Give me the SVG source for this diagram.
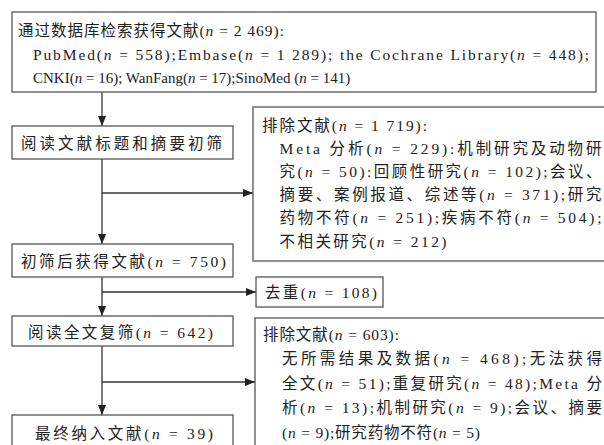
<svg xmlns="http://www.w3.org/2000/svg" width="604" height="445" viewBox="0 0 604 445">
<defs>
<marker id="ah" markerWidth="10" markerHeight="8" refX="10" refY="4" orient="auto" markerUnits="userSpaceOnUse">
<path d="M0,0 L10,4 L0,8 Z" fill="#222"/>
</marker>
<style>
.box{fill:#fff;stroke:#555;stroke-width:1.3}
.t{font-family:"Liberation Serif","Noto Sans CJK SC",serif;font-size:15.5px;fill:#222}
.c{stroke:#333;stroke-width:1.3;fill:none}
.n{font-style:italic}
</style>
</defs>
<rect width="604" height="445" fill="#fff"/>
<g id="connectors">
<line class="c" x1="102" y1="92" x2="102" y2="126" marker-end="url(#ah)"/>
<line class="c" x1="102" y1="159" x2="102" y2="244" marker-end="url(#ah)"/>
<line class="c" x1="102" y1="193" x2="253" y2="193" marker-end="url(#ah)"/>
<line class="c" x1="102" y1="277" x2="102" y2="316" marker-end="url(#ah)"/>
<line class="c" x1="102" y1="292" x2="256" y2="292" marker-end="url(#ah)"/>
<line class="c" x1="102" y1="346" x2="102" y2="415" marker-end="url(#ah)"/>
<line class="c" x1="102" y1="382" x2="255" y2="382" marker-end="url(#ah)"/>
</g>
<g id="search">
<rect class="box" x="12" y="12" width="584" height="80"/>
<text class="t" x="18" y="36" textLength="266" lengthAdjust="spacing">通过数据库检索获得文献(<tspan class="n">n</tspan> = 2 469):</text>
<text class="t" x="33" y="59.5" textLength="556" lengthAdjust="spacing">PubMed(<tspan class="n">n</tspan> = 558);Embase(<tspan class="n">n</tspan> = 1 289); the Cochrane Library(<tspan class="n">n</tspan> = 448);</text>
<text class="t" x="33" y="83" style="font-size:15px">CNKI(<tspan class="n">n</tspan> = 16); WanFang(<tspan class="n">n</tspan> = 17);SinoMed (<tspan class="n">n</tspan> = 141)</text>
</g>
<g id="screen1">
<rect class="box" x="12" y="126" width="221" height="33"/>
<text class="t" x="21" y="148.5" textLength="201" lengthAdjust="spacing">阅读文献标题和摘要初筛</text>
</g>
<g id="exclude1">
<rect class="box" x="253" y="107" width="360" height="154"/>
<text class="t" x="262" y="131" textLength="165" lengthAdjust="spacing">排除文献(<tspan class="n">n</tspan> = 1 719):</text>
<text class="t" x="279.5" y="154" textLength="322" lengthAdjust="spacing">Meta 分析(<tspan class="n">n</tspan> = 229):机制研究及动物研</text>
<text class="t" x="279.5" y="177" textLength="322" lengthAdjust="spacing">究(<tspan class="n">n</tspan> = 50):回顾性研究(<tspan class="n">n</tspan> = 102);会议、</text>
<text class="t" x="279.5" y="200" textLength="322" lengthAdjust="spacing">摘要、案例报道、综述等(<tspan class="n">n</tspan> = 371);研究</text>
<text class="t" x="279.5" y="223" textLength="322" lengthAdjust="spacing">药物不符(<tspan class="n">n</tspan> = 251);疾病不符(<tspan class="n">n</tspan> = 504);</text>
<text class="t" x="279.5" y="246.5" textLength="167" lengthAdjust="spacing">不相关研究(<tspan class="n">n</tspan> = 212)</text>
</g>
<g id="after1">
<rect class="box" x="12" y="244" width="221" height="33"/>
<text class="t" x="21" y="266.5" textLength="205" lengthAdjust="spacing">初筛后获得文献(<tspan class="n">n</tspan> = 750)</text>
</g>
<g id="dedup">
<rect class="box" x="256" y="277" width="127" height="30"/>
<text class="t" x="265" y="298" textLength="112" lengthAdjust="spacing">去重(<tspan class="n">n</tspan> = 108)</text>
</g>
<g id="fulltext">
<rect class="box" x="12" y="316" width="221" height="30"/>
<text class="t" x="28" y="337.5" textLength="185" lengthAdjust="spacing">阅读全文复筛(<tspan class="n">n</tspan> = 642)</text>
</g>
<g id="exclude2">
<rect class="box" x="255" y="318" width="360" height="140"/>
<text class="t" x="263" y="340" textLength="136" lengthAdjust="spacing">排除文献(<tspan class="n">n</tspan> = 603):</text>
<text class="t" x="282" y="364" textLength="320" lengthAdjust="spacing">无所需结果及数据(<tspan class="n">n</tspan> = 468);无法获得</text>
<text class="t" x="282" y="388.5" textLength="320" lengthAdjust="spacing">全文(<tspan class="n">n</tspan> = 51);重复研究(<tspan class="n">n</tspan> = 48);Meta 分</text>
<text class="t" x="282" y="413" textLength="320" lengthAdjust="spacing">析(<tspan class="n">n</tspan> = 13);机制研究(<tspan class="n">n</tspan> = 9);会议、摘要</text>
<text class="t" x="282" y="437.5" textLength="198" lengthAdjust="spacing">(<tspan class="n">n</tspan> = 9);研究药物不符(<tspan class="n">n</tspan> = 5)</text>
</g>
<g id="final">
<rect class="box" x="12" y="415" width="221" height="40"/>
<text class="t" x="35" y="439" textLength="178" lengthAdjust="spacing">最终纳入文献(<tspan class="n">n</tspan> = 39)</text>
</g>
</svg>
